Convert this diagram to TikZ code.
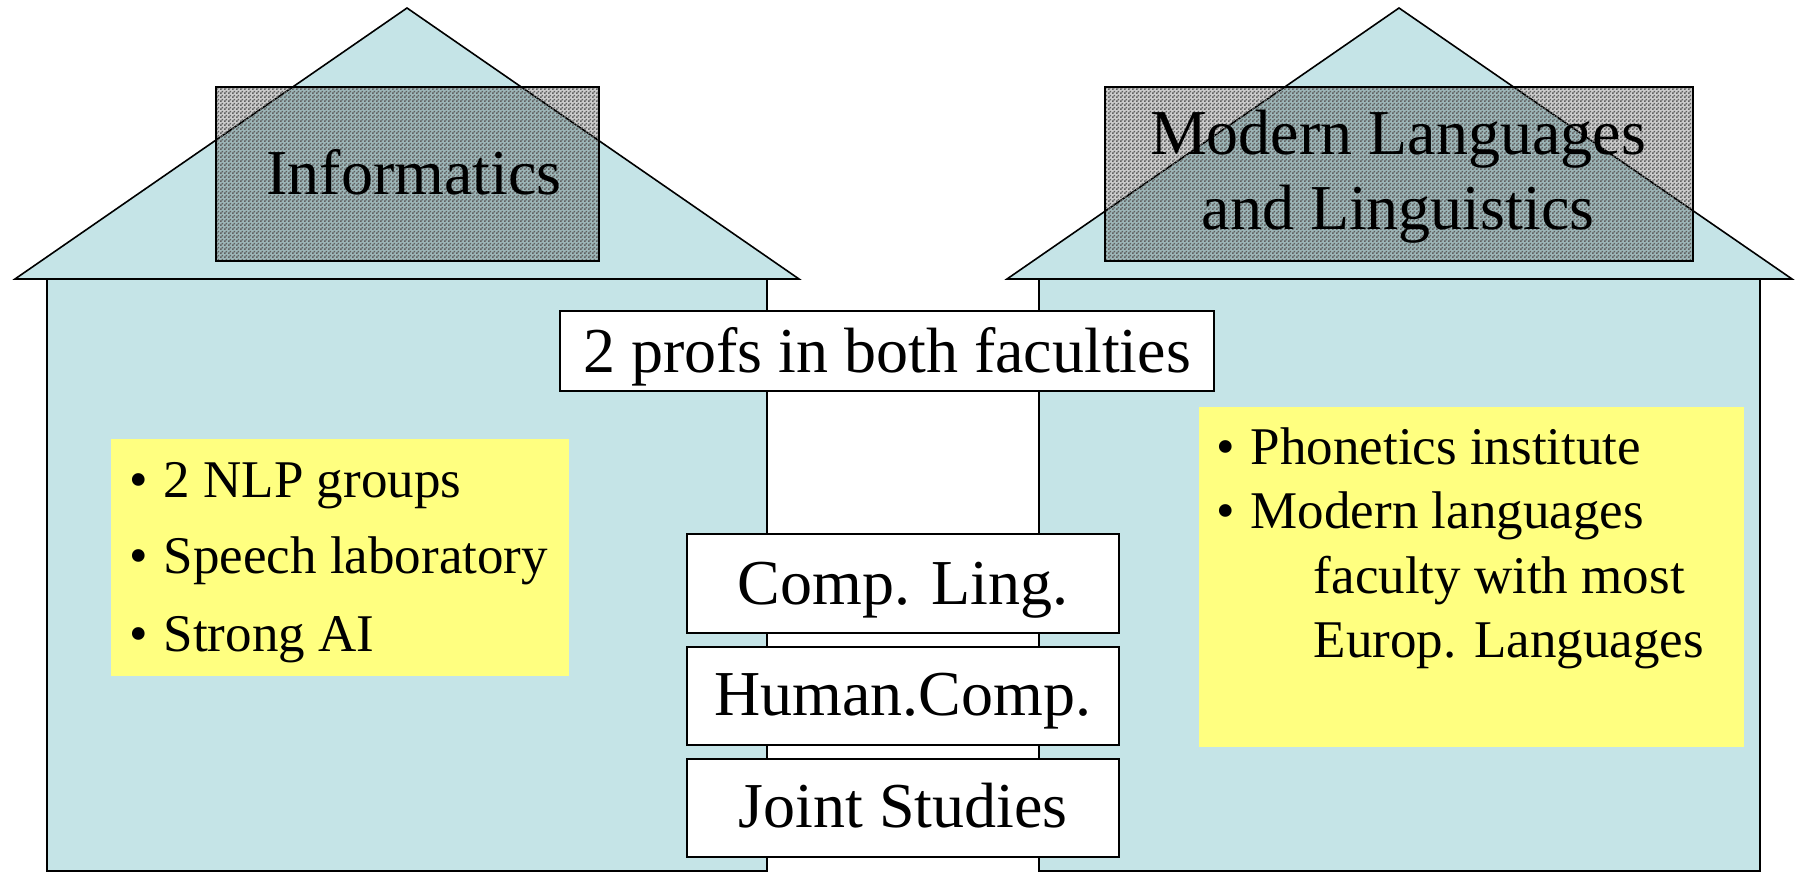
\documentclass[tikz,border=0pt]{standalone}
\usepackage{fontspec}
\setmainfont{Liberation Serif}
\usetikzlibrary{patterns}
\definecolor{housebl}{RGB}{197,228,231}
\definecolor{noteyl}{RGB}{255,255,128}
\definecolor{hatchgr}{RGB}{95,95,95}
\pgfdeclarepatternformonly{chk}{\pgfqpoint{0pt}{0pt}}{\pgfqpoint{4pt}{4pt}}{\pgfqpoint{4pt}{4pt}}{%
  \pgfpathrectangle{\pgfqpoint{0pt}{0pt}}{\pgfqpoint{2pt}{2pt}}%
  \pgfpathrectangle{\pgfqpoint{2pt}{2pt}}{\pgfqpoint{2pt}{2pt}}%
  \pgfusepath{fill}}
\tikzset{
  house/.style={fill=housebl,draw=black},
  hatchbox/.style={pattern=chk,pattern color=hatchgr},
  hatchshade/.style={fill=black,fill opacity=0.2},
  whitebox/.style={fill=white,draw=black},
  note/.style={fill=noteyl},
  big/.style={font=\fontsize{64}{64}\selectfont,inner sep=0pt,anchor=base},
  item/.style={font=\fontsize{53}{53}\selectfont,inner sep=0pt,anchor=base west},
}
\newcommand{\bul}[1]{\makebox[#1][l]{•}}
\begin{document}
\begin{tikzpicture}[x=1pt,y=-1pt,line width=1.6pt]
\useasboundingbox (0,0) rectangle (1798,874);
% left house
\path[house] (15,279) -- (407,8) -- (799,279) -- cycle;
\path[house] (47,279) rectangle (767,871);
% right house
\path[house] (1007,279) -- (1399,8) -- (1792,279) -- cycle;
\path[house] (1039,279) rectangle (1760,871);
% yellow notes
\fill[note] (111,439) rectangle (569,676);
\fill[note] (1199,407) rectangle (1744,747);
% hatched title boxes
\fill[hatchshade] (216,87) rectangle (599,261);
\fill[hatchbox] (216,87) rectangle (599,261);
\draw (216,87) rectangle (599,261);
\fill[hatchshade] (1105,87) rectangle (1693,261);
\fill[hatchbox] (1105,87) rectangle (1693,261);
\draw (1105,87) rectangle (1693,261);
% white boxes
\draw[whitebox] (560,311) rectangle (1214,391);
\draw[whitebox] (687,534) rectangle (1119,633);
\draw[whitebox] (687,647) rectangle (1119,745);
\draw[whitebox] (687,759) rectangle (1119,857);
% texts
\node[big] (inf) at (414,195) {Informatics};
\node[big] (ml1) at (1398,155) {Modern Languages};
\node[big] (ml2) at (1398,230) {and Linguistics};
\node[big] (profs) at (887,372) {2 profs in both faculties};
\node[big] (cl) at (903,604) {Comp. Ling.};
\node[big] (hc) at (903,715) {Human.Comp.};
\node[big] (js) at (903,827) {Joint Studies};
\node[item] (l1) at (129,497) {\bul{34pt}2 NLP groups};
\node[item] (l2) at (129,573) {\bul{34pt}Speech laboratory};
\node[item] (l3) at (129,651) {\bul{34pt}Strong AI};
\node[item] (r1) at (1216,464) {\bul{34pt}Phonetics institute};
\node[item] (r2) at (1216,528) {\bul{34pt}Modern languages};
\node[item] (r3) at (1313,593) {faculty with most};
\node[item] (r4) at (1313,657) {Europ. Languages};
\end{tikzpicture}
\end{document}
